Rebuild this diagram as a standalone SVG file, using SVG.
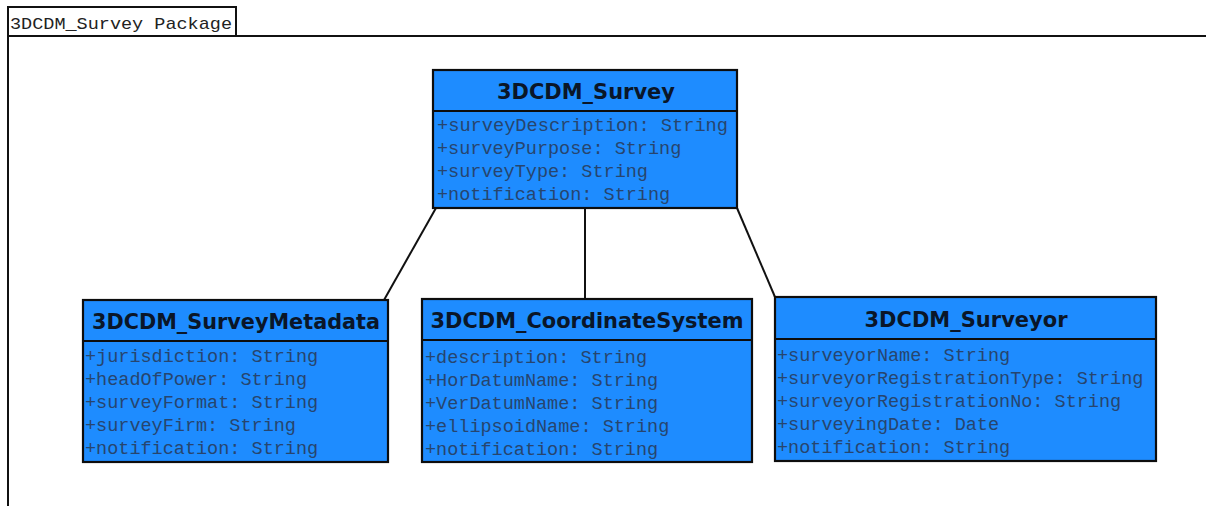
<svg xmlns="http://www.w3.org/2000/svg" width="1206" height="506" viewBox="0 0 1206 506">
  <style>
    .frame { fill: none; stroke: #111; stroke-width: 2; }
    .box { fill: #1e8cff; stroke: #0d0d0d; stroke-width: 2.2; }
    .sep { stroke: #0d0d0d; stroke-width: 2; }
    .title { font-family: "DejaVu Sans", Verdana, sans-serif; font-weight: bold; font-size: 21px; fill: #0a1628; text-anchor: middle; }
    .attr { font-family: "Liberation Mono", "Courier New", monospace; font-size: 18.5px; fill: #27456e; }
    .pkg { font-family: "Liberation Mono", "Courier New", monospace; font-size: 17px; fill: #222; }
    .link { stroke: #111; stroke-width: 2; fill: none; }
  </style>
  <rect width="1206" height="506" fill="#ffffff"/>

  <!-- package frame with name tab -->
  <g id="package">
    <path class="frame" d="M8 506 V36 H1206"/>
    <path class="frame" d="M8 36 V7 H236 V36"/>
    <text class="pkg" x="10" y="29" textLength="222" lengthAdjust="spacingAndGlyphs">3DCDM_Survey Package</text>
  </g>

  <!-- associations -->
  <g id="connectors">
    <line class="link" x1="436" y1="208" x2="384" y2="300"/>
    <line class="link" x1="585" y1="208" x2="585" y2="299"/>
    <line class="link" x1="737" y1="208" x2="775" y2="297"/>
  </g>

  <g id="survey">
    <rect class="box" x="433" y="70" width="304" height="138"/>
    <line class="sep" x1="433" y1="111" x2="737" y2="111"/>
    <text class="title" x="586" y="99" textLength="178" lengthAdjust="spacingAndGlyphs">3DCDM_Survey</text>
    <text class="attr" x="437" y="131" textLength="291" lengthAdjust="spacingAndGlyphs">+surveyDescription: String</text>
    <text class="attr" x="437" y="154">+surveyPurpose: String</text>
    <text class="attr" x="437" y="177">+surveyType: String</text>
    <text class="attr" x="437" y="200">+notification: String</text>
  </g>

  <g id="survey-metadata">
    <rect class="box" x="83" y="300" width="305" height="162"/>
    <line class="sep" x1="83" y1="341" x2="388" y2="341"/>
    <text class="title" x="236" y="329" textLength="288" lengthAdjust="spacingAndGlyphs">3DCDM_SurveyMetadata</text>
    <text class="attr" x="85" y="362">+jurisdiction: String</text>
    <text class="attr" x="85" y="385">+headOfPower: String</text>
    <text class="attr" x="85" y="408">+surveyFormat: String</text>
    <text class="attr" x="85" y="431">+surveyFirm: String</text>
    <text class="attr" x="85" y="454">+notification: String</text>
  </g>

  <g id="coordinate-system">
    <rect class="box" x="422" y="299" width="330" height="163"/>
    <line class="sep" x1="422" y1="340" x2="752" y2="340"/>
    <text class="title" x="587" y="328" textLength="313" lengthAdjust="spacingAndGlyphs">3DCDM_CoordinateSystem</text>
    <text class="attr" x="425" y="363">+description: String</text>
    <text class="attr" x="425" y="386">+HorDatumName: String</text>
    <text class="attr" x="425" y="409">+VerDatumName: String</text>
    <text class="attr" x="425" y="432">+ellipsoidName: String</text>
    <text class="attr" x="425" y="455">+notification: String</text>
  </g>

  <g id="surveyor">
    <rect class="box" x="775" y="297" width="381" height="164"/>
    <line class="sep" x1="775" y1="339" x2="1156" y2="339"/>
    <text class="title" x="966" y="327" textLength="203" lengthAdjust="spacingAndGlyphs">3DCDM_Surveyor</text>
    <text class="attr" x="777" y="361">+surveyorName: String</text>
    <text class="attr" x="777" y="384">+surveyorRegistrationType: String</text>
    <text class="attr" x="777" y="407">+surveyorRegistrationNo: String</text>
    <text class="attr" x="777" y="430">+surveyingDate: Date</text>
    <text class="attr" x="777" y="453">+notification: String</text>
  </g>
</svg>
